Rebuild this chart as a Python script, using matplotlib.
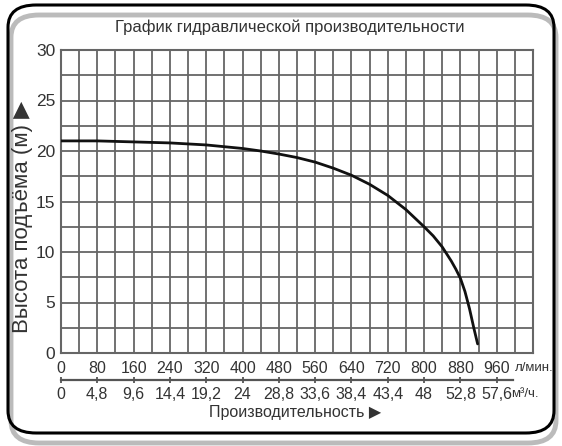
import matplotlib
matplotlib.use("Agg")
import matplotlib.pyplot as plt
from matplotlib.patches import FancyBboxPatch
from matplotlib.ticker import MultipleLocator

# Data
flow_lpm = [0, 80, 160, 240, 320, 400, 440, 480, 520, 560, 600, 640, 680, 720,
            760, 800, 820, 840, 860, 870, 880, 890, 900, 910, 918]
head_m = [21.0, 21.0, 20.9, 20.8, 20.6, 20.25, 20.0, 19.7, 19.35, 18.9, 18.3, 17.6,
          16.7, 15.6, 14.2, 12.5, 11.6, 10.5, 9.1, 8.3, 7.4, 6.1, 4.4, 2.4, 0.9]

x_ticks = [0, 80, 160, 240, 320, 400, 480, 560, 640, 720, 800, 880, 960]
x_labels = ["0", "80", "160", "240", "320", "400", "480", "560", "640", "720", "800", "880", "960"]
m3h_labels = ["0", "4,8", "9,6", "14,4", "19,2", "24", "28,8", "33,6", "38,4", "43,4", "48", "52,8", "57,6"]
y_ticks = [0, 5, 10, 15, 20, 25, 30]

title = "График гидравлической производительности"
xlabel = "Производительность ▶"
ylabel = "Высота подъёма (м) ▶"

FONT = ["Liberation Sans Narrow", "Liberation Sans", "DejaVu Sans"]
plt.rcParams["font.family"] = FONT

W, H = 562, 446
TXT = "#333333"
fig = plt.figure(figsize=(W / 100, H / 100), dpi=100)

# rounded frame with shadow
shadow = FancyBboxPatch((11 / W, 3 / H), 545 / W, 428 / H,
                        boxstyle="round,pad=0,rounding_size=0.05",
                        transform=fig.transFigure, facecolor="none",
                        edgecolor="#bbbbbb", linewidth=3.5, zorder=0)
fig.patches.append(shadow)
frame = FancyBboxPatch((8 / W, 13 / H), 546 / W, 428 / H,
                       boxstyle="round,pad=0,rounding_size=0.05",
                       transform=fig.transFigure, facecolor="none",
                       edgecolor="black", linewidth=2.2, zorder=1)
fig.patches.append(frame)

ax = fig.add_axes([61 / W, 1 - 353 / H, (533 - 61) / W, (353 - 50) / H])
ax.plot(flow_lpm, head_m, color="#111111", linewidth=2.0, zorder=5,
        solid_capstyle="round", solid_joinstyle="round")
ax.set_xlim(0, 1040)
ax.set_ylim(0, 30)

ax.set_xticks(x_ticks)
ax.set_xticklabels(x_labels)
ax.xaxis.set_minor_locator(MultipleLocator(40))
ax.set_yticks(y_ticks)
ax.yaxis.set_minor_locator(MultipleLocator(2.5))
ax.grid(True, which="both", color="#666666", linewidth=1.3)
ax.set_axisbelow(True)
for s in ax.spines.values():
    s.set_color("#666666")
    s.set_linewidth(1.5)
ax.tick_params(which="both", length=0, labelsize=11.5, colors=TXT, pad=4)
ax.tick_params(axis="y", labelsize=12.5)
ax.tick_params(axis="x", pad=6)

# second (m3/h) axis
sec = ax.secondary_xaxis(-0.089)
sec.set_xticks(x_ticks)
sec.set_xticklabels(m3h_labels)
sec.spines["bottom"].set_bounds(0, 995)
sec.spines["bottom"].set_color("#555555")
sec.spines["bottom"].set_linewidth(1.6)
sec.tick_params(direction="inout", length=4, width=1.3, colors="#555555",
                labelcolor=TXT, labelsize=11.5, pad=3)

fig.text(515 / W, 1 - 368 / H, "л/мин.", fontsize=9.5, color=TXT,
         va="center", ha="left")
fig.text(511 / W, 1 - 394 / H, "м³/ч.", fontsize=9.5, color=TXT,
         va="center", ha="left")

fig.text(290 / W, 1 - 27 / H, title, fontsize=12, color=TXT,
         ha="center", va="center")
fig.text(295 / W, 1 - 412 / H, xlabel, fontsize=11.5, color=TXT,
         ha="center", va="center")
fig.text(23 / W, 1 - 217 / H, ylabel, fontsize=16, color=TXT,
         ha="center", va="center", rotation=90)

fig.savefig("out.png", dpi=100)
